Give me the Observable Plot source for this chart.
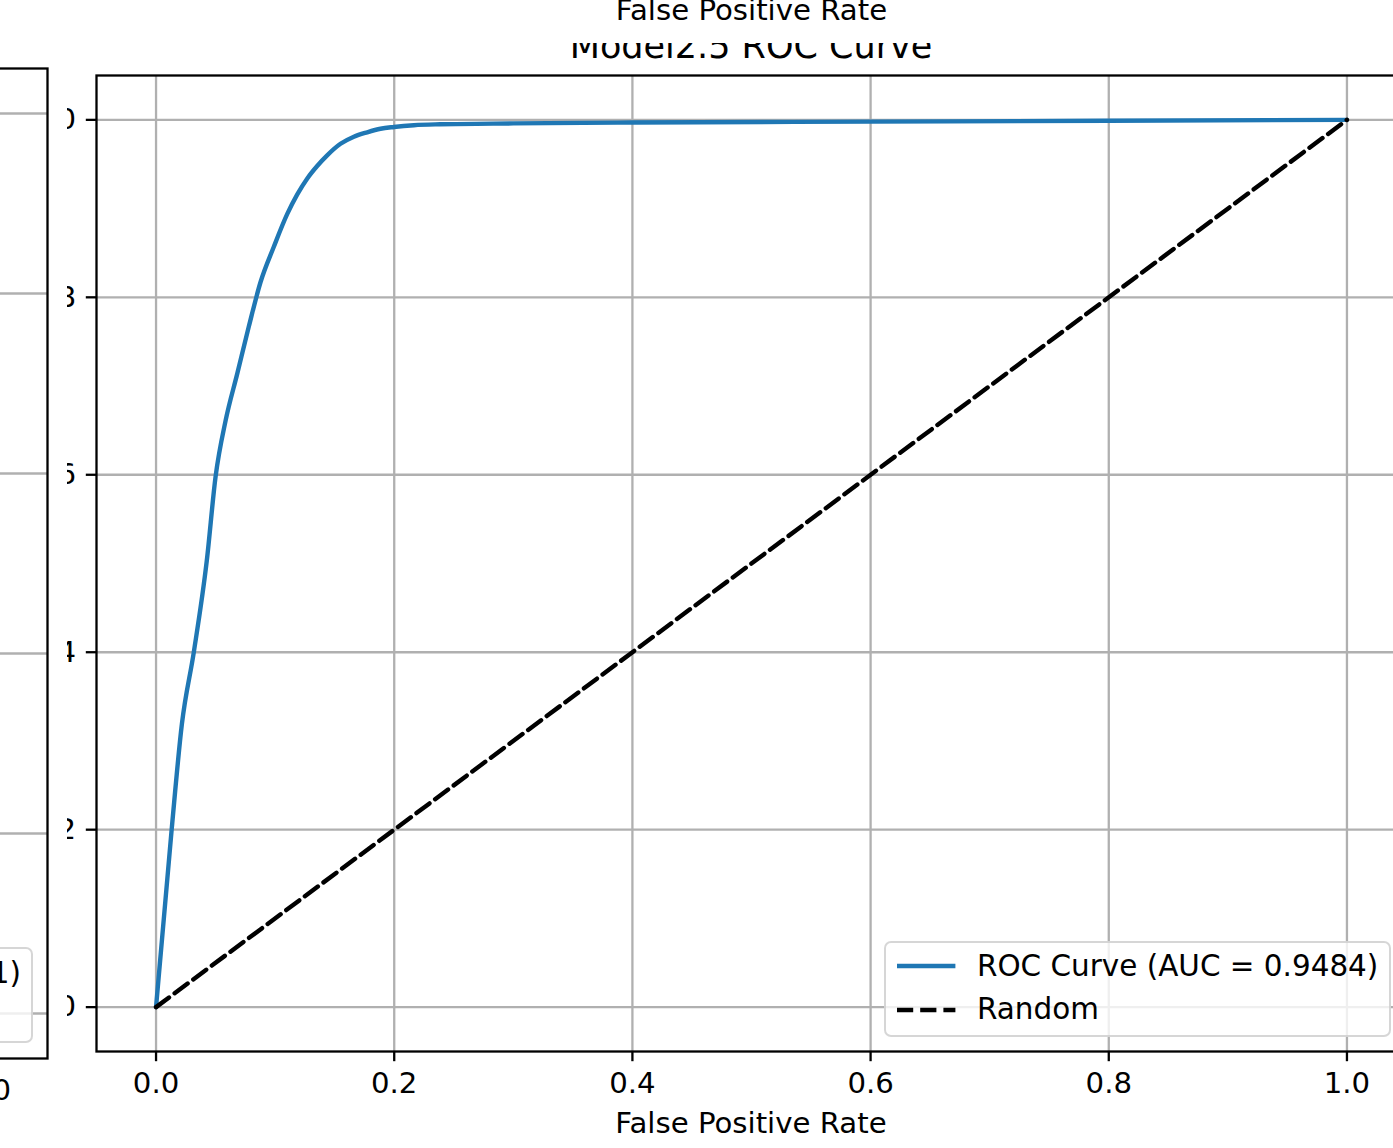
<!DOCTYPE html>
<html>
<head>
<meta charset="utf-8">
<script src="https://cdn.jsdelivr.net/npm/d3@7"></script>
<script src="https://cdn.jsdelivr.net/npm/@observablehq/plot@0.6"></script>
<style>
html, body { margin:0; padding:0; background:#fff; overflow:hidden; width:1393px; height:1148px; }
#stage { position:relative; width:1393px; height:1148px; overflow:hidden; font-family:"DejaVu Sans", sans-serif; color:#000; }
#stage > * { position:absolute; }
.txt { white-space:nowrap; line-height:1; }
</style>
</head>
<body>
<div id="stage"></div>
<script>
// ---- data ----
const modelTitle = "Model2.5 ROC Curve";
const xLabel = "False Positive Rate";
const upperXLabel = "False Positive Rate";
const rocLabel = "ROC Curve (AUC = 0.9484)";
const randomLabel = "Random";
const leftLegendTail = "1)";
const fpr = [0, 0.0131, 0.0217, 0.0317, 0.0426, 0.0500, 0.0584, 0.0682, 0.0779, 0.0877, 0.0989, 0.1102, 0.1186, 0.1270, 0.1353, 0.1437, 0.1549, 0.1661, 0.1773, 0.1885, 0.1997, 0.2165, 0.2385, 0.30, 0.40, 0.60, 0.80, 1.0];
const tpr = [0, 0.200, 0.319, 0.400, 0.503, 0.598, 0.661, 0.714, 0.767, 0.817, 0.857, 0.894, 0.916, 0.934, 0.948, 0.960, 0.973, 0.981, 0.986, 0.990, 0.992, 0.994, 0.995, 0.996, 0.997, 0.998, 0.999, 1.0];
const randomFpr = [0, 1];
const randomTpr = [0, 1];
const ticks = [0, 0.2, 0.4, 0.6, 0.8, 1.0];

// ---- build ----
const stage = document.getElementById("stage");
const fmt = d3.format(".1f");
const rocData = fpr.map((f, i) => ({fpr: f, tpr: tpr[i]}));
const randomData = randomFpr.map((f, i) => ({fpr: f, tpr: randomTpr[i]}));
const gridStyle = {stroke: "#b0b0b0", strokeOpacity: 1, strokeWidth: 2.3};
const axisOpts = {tickSize: 10.2, tickPadding: 10.2, tickFormat: fmt, strokeWidth: 2.3, label: null};
const plotStyle = {fontFamily: "DejaVu Sans", fontSize: "29.2px", color: "#000", background: "transparent", overflow: "visible"};

const main = Plot.plot({
  width: 1406, height: 1148,
  marginLeft: 96, marginRight: 0, marginTop: 75, marginBottom: 97,
  x: {domain: [-0.05, 1.05]}, y: {domain: [-0.05, 1.05]},
  style: plotStyle,
  marks: [
    Plot.gridX(ticks, gridStyle),
    Plot.gridY(ticks, gridStyle),
    Plot.line(rocData, {x: "fpr", y: "tpr", stroke: "#1f77b4", strokeWidth: 4.4, strokeLinejoin: "round", curve: "monotone-x"}),
    Plot.line(randomData, {x: "fpr", y: "tpr", stroke: "#000", strokeWidth: 4.4, strokeDasharray: "16.2,7"}),
    Plot.frame({stroke: "#000", strokeWidth: 2.3}),
    Plot.axisX(ticks, axisOpts),
    Plot.axisY(ticks, axisOpts)
  ]
});
main.style.left = "0px"; main.style.top = "0px"; main.style.maxWidth = "none";
stage.appendChild(main);

// neighbouring subplot on the left (only its right edge is in view)
const left = Plot.plot({
  width: 1367, height: 1148,
  marginLeft: 37, marginRight: 20, marginTop: 68, marginBottom: 90,
  x: {domain: [-0.05, 1.05]}, y: {domain: [-0.05, 1.05]},
  style: plotStyle,
  marks: [
    Plot.gridX(ticks, gridStyle),
    Plot.gridY(ticks, gridStyle),
    Plot.frame({stroke: "#000", strokeWidth: 2.3}),
    Plot.axisX(ticks, axisOpts)
  ]
});
left.style.left = "-1300px"; left.style.top = "0px"; left.style.maxWidth = "none"; left.style.background = "#fff";
stage.appendChild(left);

function addText(str, {left, top, size, width, align}) {
  const d = document.createElement("div");
  d.className = "txt";
  d.textContent = str;
  Object.assign(d.style, {left: left + "px", top: top + "px", fontSize: size + "px", width: width + "px", textAlign: align});
  stage.appendChild(d);
  return d;
}

// x label of the subplot above
addText(upperXLabel, {left: 1, top: 21 - 24.7, size: 29.2, width: 1501, align: "center"});
// clipped title
const clip = document.createElement("div");
Object.assign(clip.style, {left: "0px", top: "43px", width: "1502px", height: "17px", overflow: "hidden"});
const t = document.createElement("div");
t.className = "txt";
t.textContent = modelTitle;
Object.assign(t.style, {position: "absolute", left: "0px", top: (59 - 43 - 29.6) + "px", width: "1502px", textAlign: "center", fontSize: "35px"});
clip.appendChild(t);
stage.appendChild(clip);
// x axis label
addText(xLabel, {left: 0, top: 1134 - 24.7, size: 29.2, width: 1502, align: "center"});

// legend (main)
function legendFrame(l, tp, w, h) {
  const b = document.createElement("div");
  Object.assign(b.style, {left: l + "px", top: tp + "px", width: w + "px", height: h + "px", boxSizing: "border-box",
    border: "2.3px solid rgba(204,204,204,0.8)", borderRadius: "7px", background: "rgba(255,255,255,0.8)"});
  stage.appendChild(b);
}
legendFrame(884, 941, 507, 96);
function handle(x, y, color, dash) {
  const ns = "http://www.w3.org/2000/svg";
  const s = document.createElementNS(ns, "svg");
  s.setAttribute("width", 59); s.setAttribute("height", 10);
  s.style.left = x + "px"; s.style.top = (y - 5) + "px"; s.style.position = "absolute";
  const ln = document.createElementNS(ns, "line");
  ln.setAttribute("x1", 0); ln.setAttribute("x2", 58.4); ln.setAttribute("y1", 5); ln.setAttribute("y2", 5);
  ln.setAttribute("stroke", color); ln.setAttribute("stroke-width", 4.4);
  if (dash) ln.setAttribute("stroke-dasharray", dash);
  s.appendChild(ln);
  stage.appendChild(s);
}
handle(897, 966, "#1f77b4", null);
handle(897, 1009.5, "#000", "16.2,7");
addText(rocLabel, {left: 977, top: 977 - 24.9, size: 29.45, width: 420, align: "left"});
addText(randomLabel, {left: 977, top: 1020 - 24.9, size: 29.45, width: 420, align: "left"});

// legend of the left subplot (only its right end is in view)
legendFrame(-474, 947, 507, 96);
addText(leftLegendTail, {left: -200, top: 984 - 24.9, size: 29.45, width: 221, align: "right"});
</script>
</body>
</html>
